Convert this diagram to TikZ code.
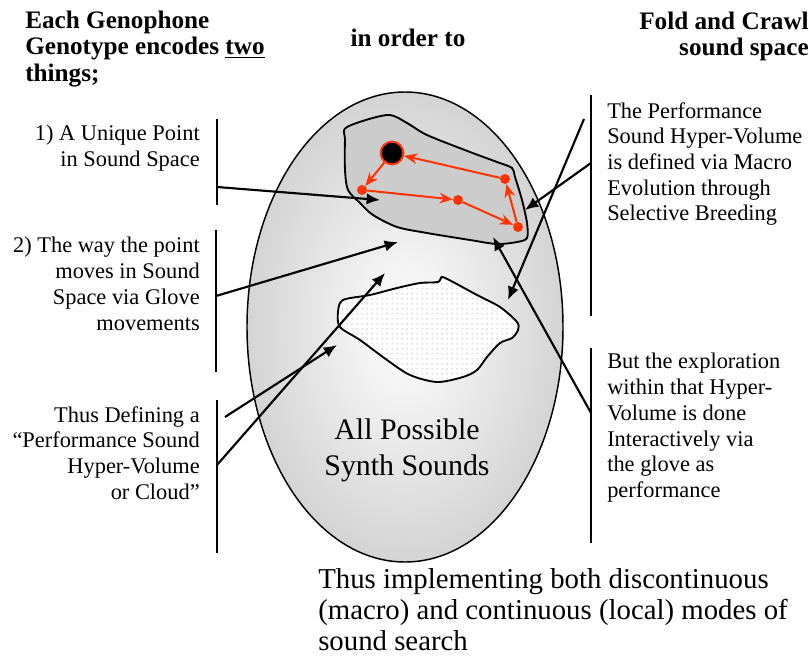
\documentclass[tikz,border=0pt]{standalone}
\usepackage{fontspec}
\setmainfont{Liberation Serif}
\usetikzlibrary{arrows.meta,patterns.meta}
\definecolor{trail}{RGB}{255,51,0}
\colorlet{cloudgray}{black!20}
\newcommand{\txthead}{\fontsize{18.9}{19.6}\selectfont\bfseries}
\newcommand{\txtbody}{\fontsize{16.8}{19.3}\selectfont}
\newcommand{\txtbig}{\fontsize{22.4}{26.3}\selectfont}
\newcommand{\txtfoot}{\fontsize{21.6}{23.3}\selectfont}
\tikzdeclarepattern{
  name=sounddots,
  type=uncolored,
  bounding box={(0pt,0pt) and (3.75pt,3.75pt)},
  tile size={(3.75pt,3.75pt)},
  code={\fill (1.875pt,1.875pt) circle (0.55pt);}
}
\tikzset{
  >={Latex[length=10pt,width=8.5pt]},
  bracket/.style={line width=1.8pt},
  pointer/.style={->,line width=1.6pt},
  move/.style={-{Stealth[length=10pt,width=8pt]},trail,line width=1.5pt},
  dot/.style={circle,fill=trail,inner sep=0pt,minimum size=7.5pt},
  remark/.style={inner sep=0pt,font=\txtbody}
}

\begin{document}
\begin{tikzpicture}[x=0.75pt,y=-0.75pt]
  \useasboundingbox (0,0) rectangle (809,656);
  % all possible sounds
  \draw[line width=1.1pt,inner color=white,outer color=black!17]
    (405,327) ellipse [x radius=158,y radius=235];
  % performance hyper-volume
  \draw[line width=1.4pt,fill=cloudgray] plot[smooth cycle,tension=0.5] coordinates {
    (347,127) (387,115) (407,123) (427,135) (470,152) (497,162) (512,168)
    (515,177) (522,200) (527,223) (527,238) (517,242) (497,244) (470,240)
    (427,233) (397,227) (373,215) (360,203) (348,190) (345,170) (345,140)};
  % dotted cloud
  \fill[white] plot[smooth cycle,tension=0.5] coordinates {
    (343,300) (370,295) (397,288) (420,283) (438,282) (442,277) (453,282)
    (477,295) (500,307) (517,322) (518,330) (512,338) (500,343) (487,357)
    (477,370) (463,377) (437,382) (410,375) (387,360) (360,340) (340,327) (338,312)};
  \draw[line width=1.4pt,pattern=sounddots,pattern color=gray!75] plot[smooth cycle,tension=0.5] coordinates {
    (343,300) (370,295) (397,288) (420,283) (438,282) (442,277) (453,282)
    (477,295) (500,307) (517,322) (518,330) (512,338) (500,343) (487,357)
    (477,370) (463,377) (437,382) (410,375) (387,360) (360,340) (340,327) (338,312)};

  % path of the point
  \node[circle,draw=trail,fill=black,line width=1.5pt,inner sep=0pt,minimum size=17pt] (p0) at (392,153) {};
  \node[dot] (p1) at (362,190) {};
  \node[dot] (p2) at (458,200) {};
  \node[dot] (p3) at (505,179) {};
  \node[dot] (p4) at (518,227) {};
  \draw[move] (p0) -- (p1);
  \draw[move] (p1) -- (p2);
  \draw[move] (p2) -- (p4);
  \draw[move] (p4) -- (p3);
  \draw[move] (p3) -- (p0);

  % texts
  \node[remark,font=\txthead,anchor=north west,align=left] (intro) at (25,11)
    {Each Genophone\\Genotype encodes \underline{two}\\things;};
  \node[remark,font=\txthead,anchor=north] (aim) at (408,29) {in order to};
  \node[remark,font=\txthead,anchor=north east,align=right] (goal) at (809,12)
    {Fold and Crawl\\sound space};
  \node[remark,anchor=north east,align=right] (point) at (200,125)
    {1) A Unique Point\\in Sound Space};
  \node[remark,anchor=north east,align=right] (motion) at (200,237)
    {2) The way the point\\moves in Sound\\Space via Glove\\movements};
  \node[remark,anchor=north east,align=right] (cloud) at (200,406)
    {Thus Defining a\\“Performance Sound\\Hyper-Volume\\or Cloud”};
  \node[remark,anchor=north west,align=left] (macro) at (607,102)
    {The Performance\\Sound Hyper-Volume\\is defined via Macro\\Evolution through\\Selective Breeding};
  \node[remark,anchor=north west,align=left] (local) at (607,353)
    {But the exploration\\within that Hyper-\\Volume is done\\Interactively via\\the glove as\\performance};
  \node[remark,font=\txtbig,align=center,anchor=north] (all) at (407,419)
    {All Possible\\Synth Sounds};
  \node[remark,font=\txtfoot,align=left,anchor=north west] (summary) at (318,568)
    {Thus implementing both discontinuous\\(macro) and continuous (local) modes of\\sound search};

  % brackets
  \draw[bracket] (217,119) -- (217,205);
  \draw[bracket] (216,230) -- (216,372);
  \draw[bracket] (217,400) -- (217,553);
  \draw[bracket] (591,95) -- (591,316);
  \draw[bracket] (591,348) -- (591,543);

  % pointers
  \coordinate (s1) at (217,187); \coordinate (t1) at (380,200);
  \coordinate (s2) at (216,296); \coordinate (t2) at (398,242);
  \coordinate (s3) at (225,417); \coordinate (t3) at (337,345);
  \coordinate (s4) at (217,465); \coordinate (t4) at (385,273);
  \coordinate (s5) at (584,119); \coordinate (t5) at (508,300);
  \coordinate (s6) at (591,163); \coordinate (t6) at (525,210);
  \coordinate (s7) at (591,413); \coordinate (t7) at (493,237);
  \foreach \i in {1,...,7}
    \draw[pointer] (s\i) -- (t\i);
\end{tikzpicture}
\end{document}
